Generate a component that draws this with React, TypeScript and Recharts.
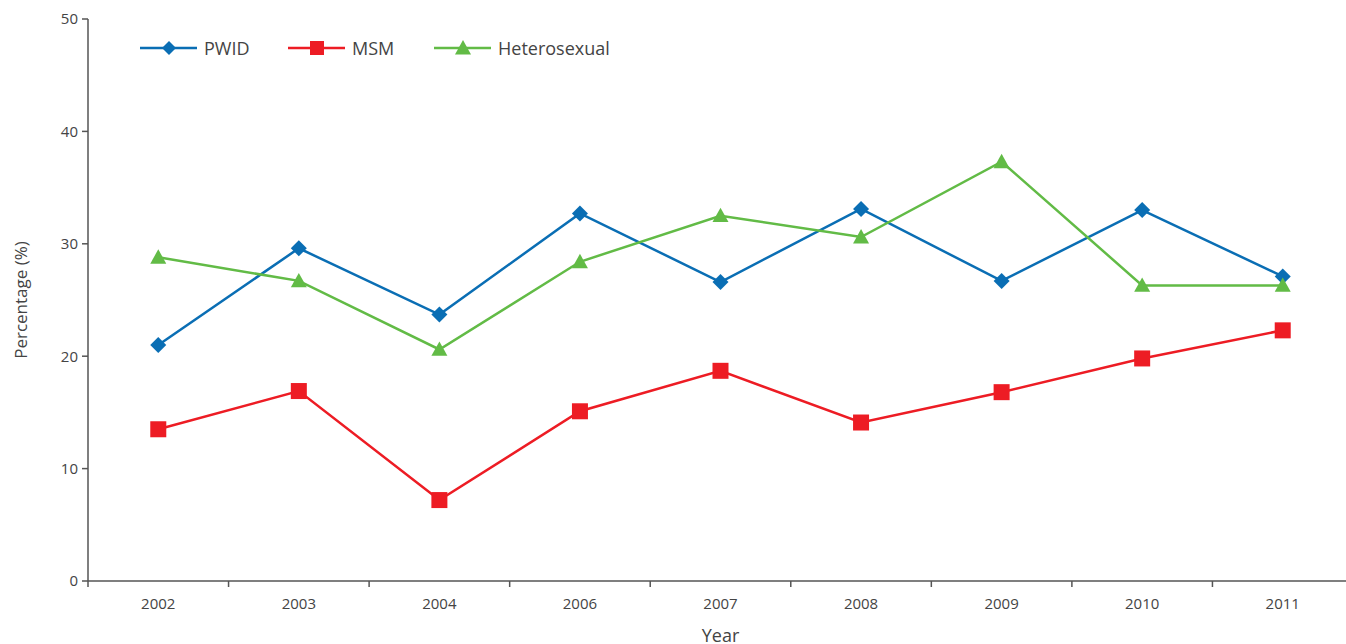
import { Legend, Line, LineChart, XAxis, YAxis } from "recharts";

const YEARS = ["2002", "2003", "2004", "2006", "2007", "2008", "2009", "2010", "2011"];
const PWID = [21.0, 29.6, 23.7, 32.7, 26.6, 33.1, 26.7, 33.0, 27.1];
const MSM = [13.5, 16.9, 7.2, 15.1, 18.7, 14.1, 16.8, 19.8, 22.3];
const HETERO = [28.8, 26.7, 20.6, 28.4, 32.5, 30.6, 37.3, 26.3, 26.3];
const Y_TICKS = [0, 10, 20, 30, 40, 50];

const BLUE = "#0a6eb4";
const RED = "#ed1c24";
const GREEN = "#62bb46";
const AXIS = "#555";
const TEXT = "#444";
const FONT = "'Open Sans', 'Noto Sans', sans-serif";

const data = YEARS.map((year, i) => ({
  pos: i + 0.5,
  year,
  pwid: PWID[i],
  msm: MSM[i],
  hetero: HETERO[i],
}));

// ticks at category edges (integers) and centres (halves)
const X_TICKS: number[] = [];
for (let i = 0; i <= YEARS.length * 2; i++) X_TICKS.push(i / 2);

type Shape = "diamond" | "square" | "triangle";

function Marker({ cx, cy, shape, color, r }: { cx: number; cy: number; shape: Shape; color: string; r: number }) {
  if (cx == null || cy == null) return null;
  if (shape === "diamond")
    return <polygon points={`${cx},${cy - r} ${cx + r},${cy} ${cx},${cy + r} ${cx - r},${cy}`} fill={color} />;
  if (shape === "square")
    return <rect x={cx - r} y={cy - r} width={2 * r} height={2 * r} fill={color} />;
  return <polygon points={`${cx},${cy - r} ${cx + r},${cy + r * 0.8} ${cx - r},${cy + r * 0.8}`} fill={color} />;
}

const dot = (shape: Shape, color: string, r: number) => (props: any) => (
  <Marker key={props.key ?? props.index} cx={props.cx} cy={props.cy} shape={shape} color={color} r={r} />
);

function XTick(props: any) {
  const { x, y, payload } = props;
  const v = payload.value as number;
  if (Number.isInteger(v)) {
    return <line x1={x} x2={x} y1={y} y2={y + 6} stroke={AXIS} strokeWidth={1.5} />;
  }
  return (
    <text x={x} y={y + 22} textAnchor="middle" dominantBaseline="central" fill={TEXT} fontSize={15}>
      {YEARS[Math.floor(v)]}
    </text>
  );
}

const LEGEND: { label: string; color: string; shape: Shape }[] = [
  { label: "PWID", color: BLUE, shape: "diamond" },
  { label: "MSM", color: RED, shape: "square" },
  { label: "Heterosexual", color: GREEN, shape: "triangle" },
];

function LegendContent() {
  const starts = [0, 148, 294];
  return (
    <svg width={520} height={24} style={{ fontFamily: FONT }}>
      {LEGEND.map((item, i) => {
        const x0 = starts[i];
        return (
          <g key={item.label}>
            <line x1={x0} x2={x0 + 57} y1={12} y2={12} stroke={item.color} strokeWidth={2.5} />
            <Marker cx={x0 + 29} cy={12} shape={item.shape} color={item.color} r={item.shape === "triangle" ? 8 : 7} />
            <text x={x0 + 64} y={12} dominantBaseline="central" fill={TEXT} fontSize={18}>
              {item.label}
            </text>
          </g>
        );
      })}
    </svg>
  );
}

function YLabel(props: any) {
  const vb = props.viewBox;
  const cy = vb.y + vb.height / 2;
  return (
    <text x={20} y={cy} transform={`rotate(-90, 20, ${cy})`} textAnchor="middle" dominantBaseline="central" fill={TEXT} fontSize={17}>
      Percentage (%)
    </text>
  );
}

export default function App() {
  return (
    <div style={{ position: "fixed", left: 0, top: 0, width: 1346, height: 644, overflow: "hidden", background: "#fff" }}>
      <LineChart
        width={1360}
        height={644}
        data={data}
        margin={{ top: 19, right: 7, left: 0, bottom: 0 }}
        style={{ fontFamily: FONT }}
      >
        <XAxis
          type="number"
          dataKey="pos"
          domain={[0, YEARS.length]}
          ticks={X_TICKS}
          interval={0}
          height={63}
          tickSize={0}
          tickMargin={0}
          tickLine={false}
          tick={<XTick />}
          axisLine={{ stroke: AXIS, strokeWidth: 1.5 }}
          label={{ value: "Year", position: "insideBottom", offset: 2, fill: TEXT, fontSize: 18 }}
        />
        <YAxis
          domain={[0, 50]}
          ticks={Y_TICKS}
          width={88}
          tickSize={6}
          tickMargin={4}
          tick={{ fill: TEXT, fontSize: 15 }}
          tickLine={{ stroke: AXIS, strokeWidth: 1.5 }}
          axisLine={{ stroke: AXIS, strokeWidth: 1.5 }}
          label={<YLabel />}
        />
        <Legend
          layout="horizontal"
          verticalAlign="middle"
          align="center"
          content={<LegendContent />}
          wrapperStyle={{ top: 36, left: 140, width: 520, height: 24 }}
        />
        <Line dataKey="pwid" stroke={BLUE} strokeWidth={2.5} dot={dot("diamond", BLUE, 8)} activeDot={false} isAnimationActive={false} />
        <Line dataKey="msm" stroke={RED} strokeWidth={2.5} dot={dot("square", RED, 8)} activeDot={false} isAnimationActive={false} />
        <Line dataKey="hetero" stroke={GREEN} strokeWidth={2.5} dot={dot("triangle", GREEN, 8)} activeDot={false} isAnimationActive={false} />
      </LineChart>
    </div>
  );
}
